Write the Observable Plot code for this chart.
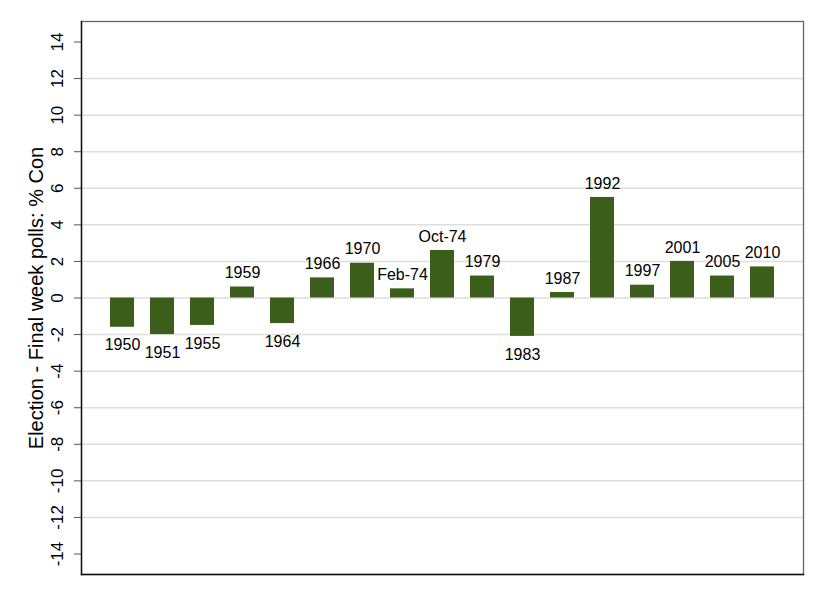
<!DOCTYPE html>
<html>
<head>
<meta charset="utf-8">
<script src="https://cdn.jsdelivr.net/npm/d3@7"></script>
<script src="https://cdn.jsdelivr.net/npm/@observablehq/plot@0.6"></script>
<style>
  html, body { margin: 0; padding: 0; background: #fff; }
  #chart { width: 825px; height: 600px; }
</style>
</head>
<body>
<div id="chart"></div>
<script>
const elections = ["1950","1951","1955","1959","1964","1966","1970","Feb-74","Oct-74","1979","1983","1987","1992","1997","2001","2005","2010"];
const errors = [-1.6, -2.0, -1.5, 0.6, -1.4, 1.1, 1.9, 0.5, 2.6, 1.2, -2.1, 0.3, 5.5, 0.7, 2.0, 1.2, 1.7];
const yTicks = [-14, -12, -10, -8, -6, -4, -2, 0, 2, 4, 6, 8, 10, 12, 14];
const gridLines = [-12, -10, -8, -6, -4, -2, 0, 2, 4, 6, 8, 10, 12];
const yTitle = "Election - Final week polls: % Con";

const data = elections.map((e, i) => ({election: e, value: errors[i]}));
const FONT = "'Liberation Sans', Arial, Helvetica, sans-serif";

const chart = Plot.plot({
  width: 825,
  height: 600,
  marginLeft: 81,
  marginRight: 22,
  marginTop: 21,
  marginBottom: 26,
  style: {fontFamily: FONT, fontSize: "17px", color: "#000", background: "#fff"},
  x: {type: "band", domain: elections, paddingInner: 0.39, paddingOuter: 0.64, axis: null},
  y: {domain: [-15.12, 15.12], axis: null},
  marks: [
    Plot.ruleY(gridLines, {stroke: "#dedede", strokeWidth: 1.5}),
    Plot.barY(data, {x: "election", y: "value", fill: "#3b5e1a"}),
    Plot.text(data.filter(d => d.value >= 0), {x: "election", y: "value", text: "election", dy: -14, fontSize: 16, fill: "#000"}),
    Plot.text(data.filter(d => d.value < 0), {x: "election", y: "value", text: "election", dy: 18, fontSize: 16, fill: "#000"}),
    Plot.axisY({anchor: "left", ticks: yTicks, tickSize: 7, tickFormat: () => "", stroke: "#555", label: null}),
    Plot.text(yTicks, {y: d => d, text: d => String(d), frameAnchor: "left", dx: -19, rotate: -90, textAnchor: "middle", lineAnchor: "bottom", fontSize: 17, fill: "#000"}),
    Plot.frame({stroke: "#666", strokeWidth: 1.3}),
    Plot.frame({anchor: "left", stroke: "#111", strokeWidth: 1.4}),
    Plot.frame({anchor: "bottom", stroke: "#111", strokeWidth: 1.4}),
    Plot.text([yTitle], {frameAnchor: "left", text: d => d, rotate: -90, dx: -39, textAnchor: "middle", lineAnchor: "bottom", fontSize: 20, fill: "#000"})
  ]
});
document.getElementById("chart").appendChild(chart);
</script>
</body>
</html>
